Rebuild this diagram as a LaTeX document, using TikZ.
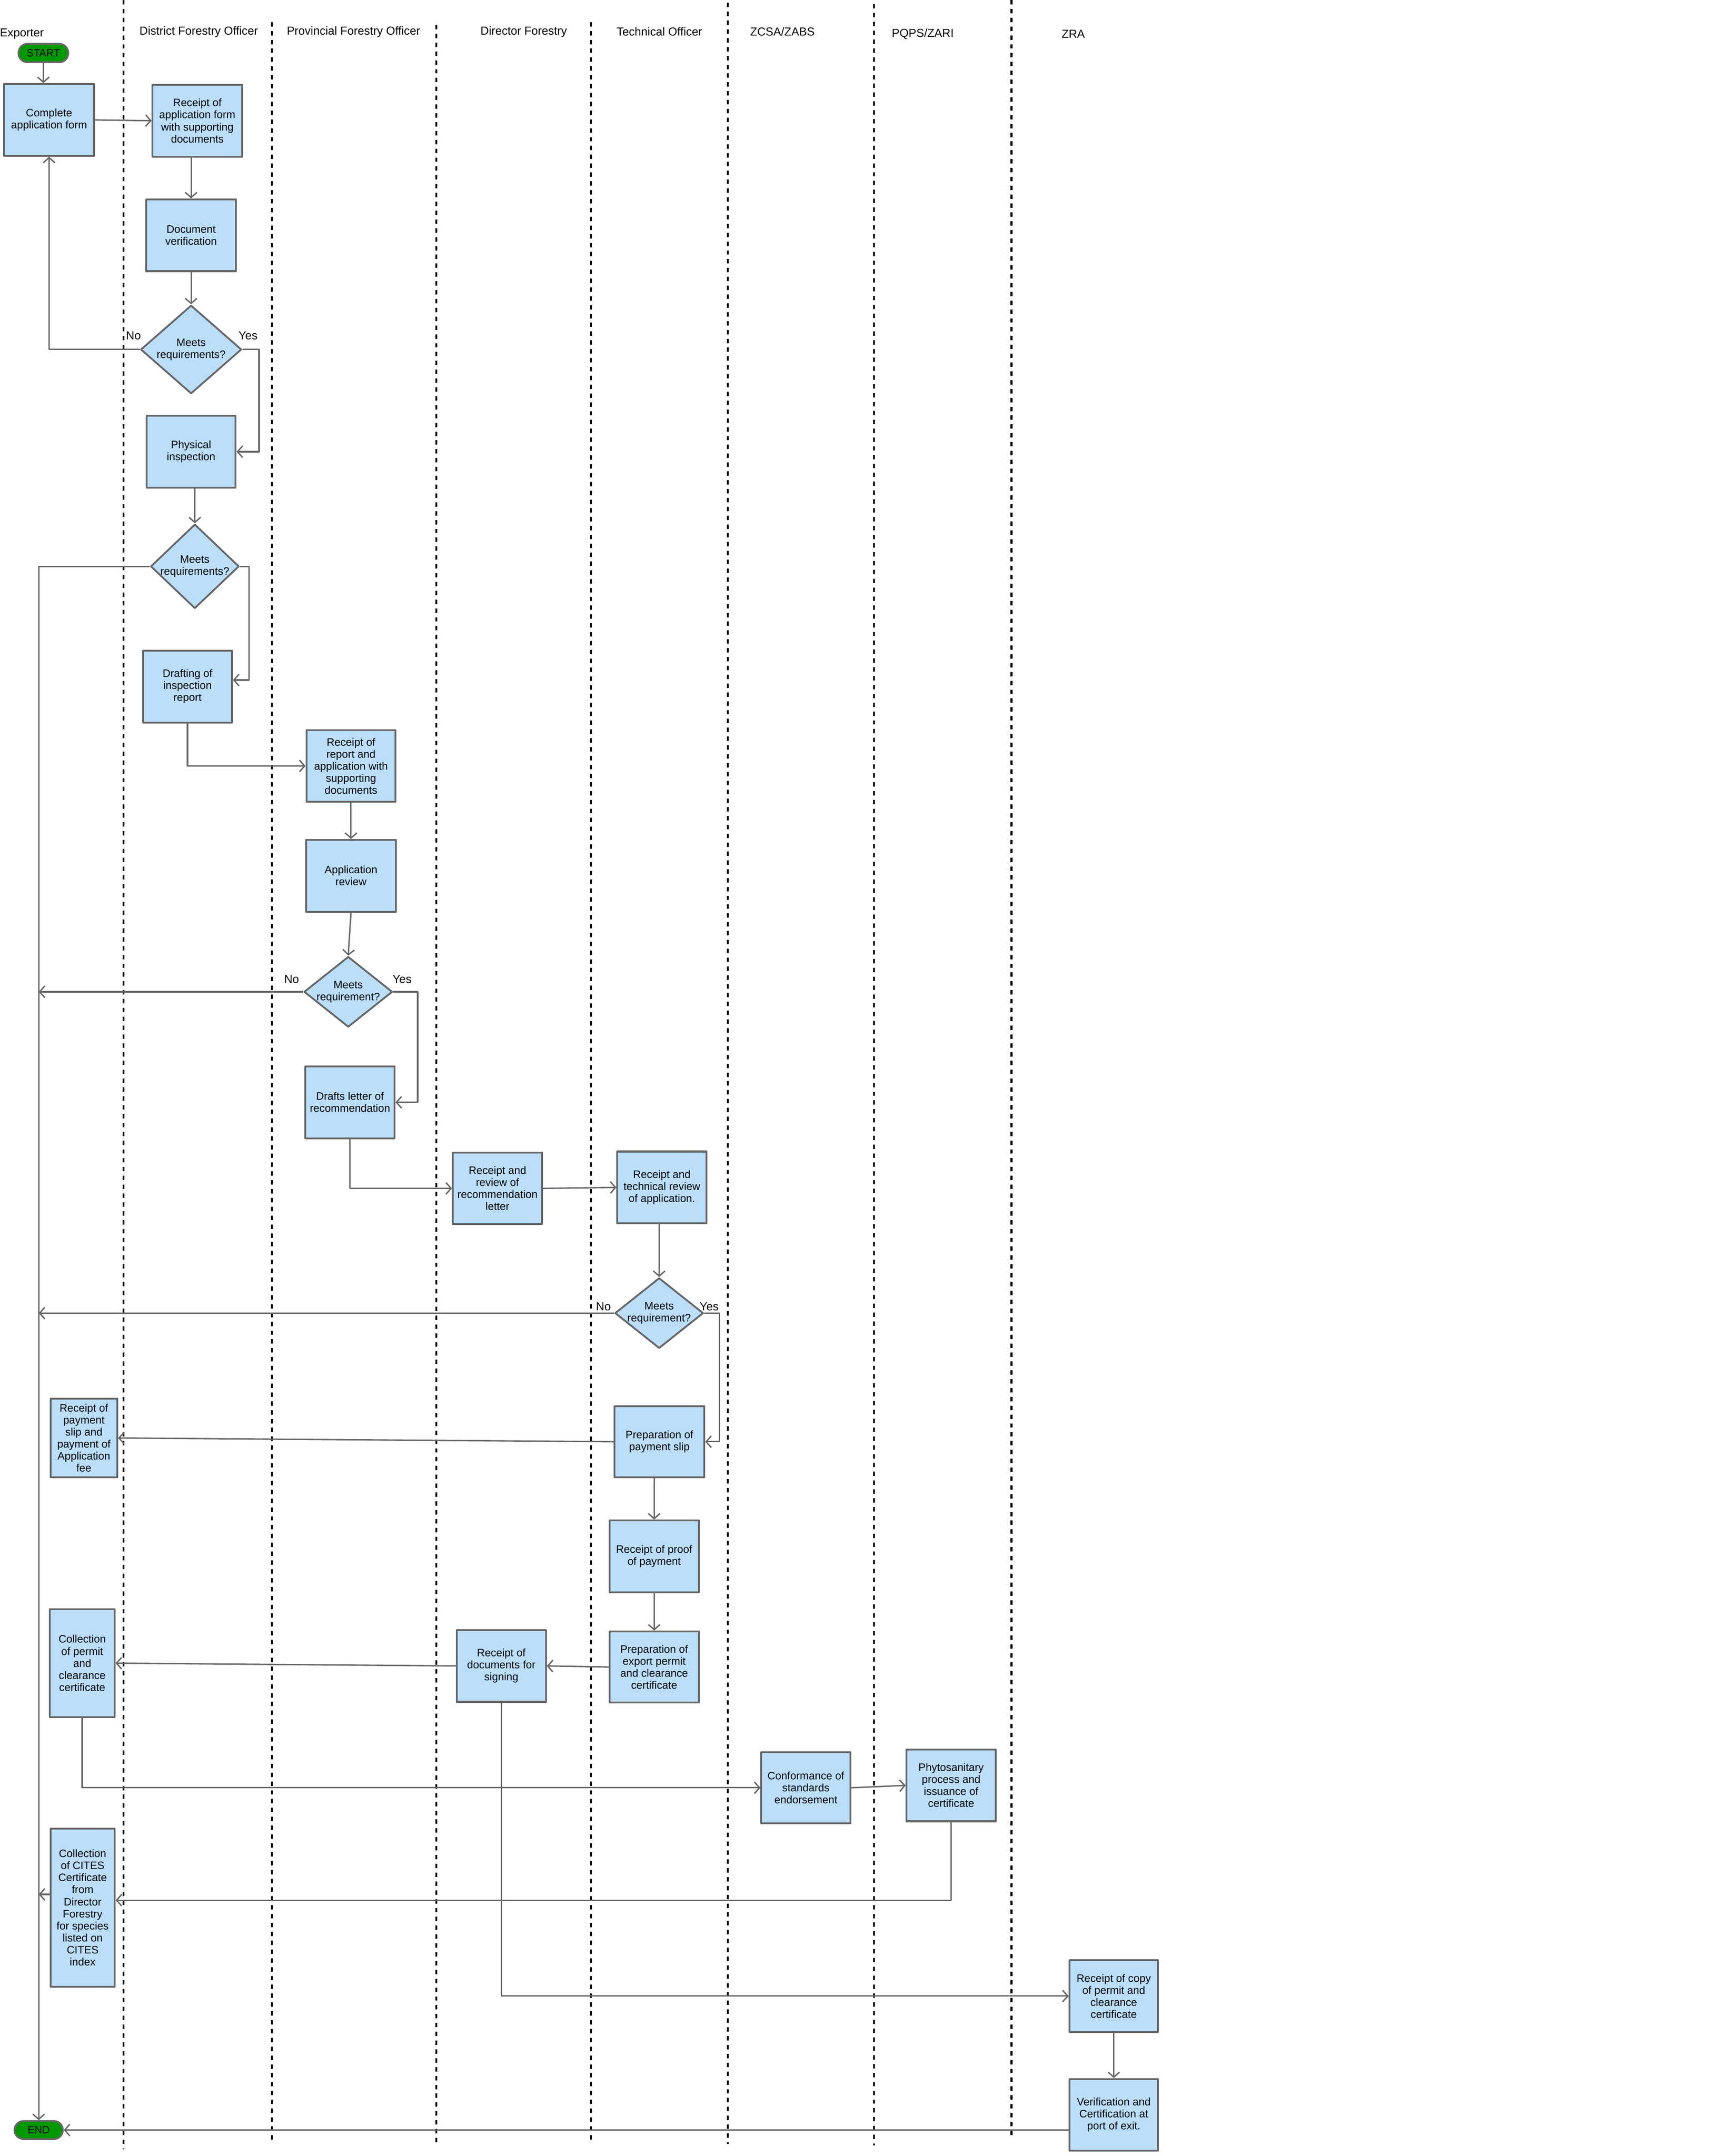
\documentclass[tikz,border=0pt]{standalone}
\usepackage{fontspec}
\setmainfont{Liberation Sans}
\usetikzlibrary{arrows.meta,shapes.geometric}
\definecolor{boxblue}{HTML}{BBDEFB}
\definecolor{linegray}{HTML}{666666}
\definecolor{termgreen}{HTML}{009900}
\newcommand{\boxfont}{\fontsize{7.8}{8.7}\selectfont}
\newcommand{\headfont}{\fontsize{8.4}{9.4}\selectfont}
\newcommand{\termfont}{\fontsize{7.6}{8.5}\selectfont}
\begin{document}
\begin{tikzpicture}[x=1pt,y=-1pt,line join=round,>={Straight Barb[length=3.7pt,width=8.4pt]},
	proc/.style={draw=linegray,fill=boxblue,line width=1.3pt,minimum width=64.5pt,minimum height=52pt,inner sep=0pt,align=center,font=\boxfont},
	decide/.style={draw=linegray,fill=boxblue,line width=1.3pt,diamond,inner sep=0pt},
	dtext/.style={align=center,font=\boxfont,inner sep=0pt},
	term/.style={draw=linegray,fill=termgreen,line width=1.3pt,rounded corners=6.5pt,minimum width=36pt,minimum height=13.3pt,inner sep=0pt,font=\termfont},
	head/.style={inner sep=0pt,font=\headfont},
	answer/.style={inner sep=0pt,font=\headfont},
	lane/.style={dash pattern=on 3.2pt off 3.2pt,line width=1.3pt},
	flow/.style={draw=linegray,line width=1pt,->}]
		\useasboundingbox (0,0) rectangle (1250.2,1560.8);
		\foreach \x/\t/\b in {89.5/0/1556,196.8/16/1551,315.8/18/1552,427.6/16/1549,526.7/2/1552,632.6/3/1553,732/0/1546}
			\draw[lane] (\x,\t)--(\x,\b);
		\node[head] (hexp) at (15.8,24.5) {Exporter};
		\node[head] (hdfo) at (143.8,23) {District Forestry Officer};
		\node[head] (hpfo) at (255.8,23) {Provincial Forestry Officer};
		\node[head] (hdir) at (379,23) {Director Forestry};
		\node[head] (htech) at (477.2,23) {Technical Officer};
		\node[head] (hzcsa) at (566.2,23) {ZCSA/ZABS};
		\node[head] (hpqps) at (667.8,24.5) {PQPS/ZARI};
		\node[head] (hzra) at (776.7,24.6) {ZRA};
		\node[term] (start) at (31.4,38.4) {START};
		\node[proc,minimum width=65pt] (apply) at (35.5,86.8) {Complete\\application form};
		\node[proc,minimum width=64.8pt] (rcapp) at (142.8,87.4) {Receipt of\\application form\\with supporting\\documents};
		\node[proc,minimum width=65pt] (docver) at (138.3,170.3) {Document\\verification};
		\node[decide,minimum width=73pt,minimum height=64pt,label={[dtext]center:{Meets\\requirements?}}] (dec1) at (138.3,253) {};
		\node[proc] (phys) at (138.3,327) {Physical\\inspection};
		\node[decide,minimum width=64pt,minimum height=61pt,label={[dtext]center:{Meets\\requirements?}}] (dec2) at (141,410) {};
		\node[proc] (draft) at (135.7,497) {Drafting of\\inspection\\report};
		\node[proc] (rcrep) at (254,554.5) {Receipt of\\report and\\application with\\supporting\\documents};
		\node[proc,minimum width=65pt] (apprev) at (254,634) {Application\\review};
		\node[decide,minimum width=64pt,minimum height=51pt,label={[dtext]center:{Meets\\requirement?}}] (dec3) at (252,718) {};
		\node[proc] (letter) at (253.3,798) {Drafts letter of\\recommendation};
		\node[proc,minimum height=51.5pt] (rcrev) at (360,860.3) {Receipt and\\review of\\recommendation\\letter};
		\node[proc] (tech) at (479,859.6) {Receipt and\\technical review\\of application.};
		\node[decide,minimum width=64pt,minimum height=51pt,label={[dtext]center:{Meets\\requirement?}}] (dec4) at (477,950.6) {};
		\node[proc,minimum width=48.2pt,minimum height=57pt] (rcpay) at (60.7,1041) {Receipt of\\payment\\slip and\\payment of\\Application\\fee};
		\node[proc,minimum width=65pt,minimum height=51.5pt] (payslip) at (477.2,1043.7) {Preparation of\\payment slip};
		\node[proc] (proof) at (473.4,1126.7) {Receipt of proof\\of payment};
		\node[proc,minimum height=51.5pt] (export) at (473.4,1206.8) {Preparation of\\export permit\\and clearance\\certificate};
		\node[proc] (docs) at (362.8,1206) {Receipt of\\documents for\\signing};
		\node[proc,minimum width=47pt,minimum height=78pt] (coll) at (59.5,1204) {Collection\\of permit\\and\\clearance\\certificate};
		\node[proc,minimum height=51.5pt] (conf) at (583.2,1294.2) {Conformance of\\standards\\endorsement};
		\node[proc] (phyto) at (688.3,1292.5) {Phytosanitary\\process and\\issuance of\\certificate};
		\node[proc,minimum width=46.5pt,minimum height=114.6pt] (cites) at (59.8,1381) {Collection\\of CITES\\Certificate\\from\\Director\\Forestry\\for species\\listed on\\CITES\\index};
		\node[proc,minimum width=64pt] (copy) at (806,1445) {Receipt of copy\\of permit and\\clearance\\certificate};
		\node[proc,minimum width=64pt] (verif) at (806,1531) {Verification and\\Certification at\\port of exit.};
		\node[term,minimum width=35pt,minimum height=13pt] (stop) at (28,1542) {END};
		\node[answer] (no1) at (96.6,243) {No};
		\node[answer] (yes1) at (179.5,243) {Yes};
		\node[answer] (no3) at (211,709) {No};
		\node[answer] (yes3) at (291,709) {Yes};
		\node[answer] (no4) at (436.7,946) {No};
		\node[answer] (yes4) at (513.2,946) {Yes};
		\coordinate (draftin) at ([yshift=4.7pt]draft.east);
		\coordinate (citesin) at ([yshift=5.4pt]cites.east);
		\coordinate (citesout) at ([yshift=9.6pt]cites.west);
		\draw[flow] (start.south)--(start.south |- apply.north);
		\draw[flow] (apply.east)--(rcapp.west);
		\draw[flow] (docver.north |- rcapp.south)--(docver.north);
		\draw[flow] (docver.south)--(dec1.north);
		\draw[flow] (dec1.west)-|(apply.south);
		\draw[flow] (dec1.east)--++(12,0)|-(phys.east);
		\draw[flow] (dec2.north |- phys.south)--(dec2.north);
		\draw[flow] (dec2.west)-|(stop.north);
		\draw[flow] (dec2.east)--++(6.5,0)|-(draftin);
		\draw[flow] (draft.south)|-(rcrep.west);
		\draw[flow] (rcrep.south)--(apprev.north);
		\draw[flow] (apprev.south)--(dec3.north);
		\draw[flow] (dec3.west)--(dec3.west -| stop.north);
		\draw[flow] (dec3.east)--++(17.6,0)|-(letter.east);
		\draw[flow] (letter.south)|-(rcrev.west);
		\draw[flow] (rcrev.east)--(tech.west);
		\draw[flow] (dec4.north |- tech.south)--(dec4.north);
		\draw[flow] (dec4.west)--(dec4.west -| stop.north);
		\draw[flow] (dec4.east)--++(11,0)|-(payslip.east);
		\draw[flow] (payslip.west)--(rcpay.east);
		\draw[flow] (proof.north |- payslip.south)--(proof.north);
		\draw[flow] (proof.south)--(export.north);
		\draw[flow] (export.west)--(docs.east);
		\draw[flow] (docs.west)--(coll.east);
		\draw[flow] (docs.south)|-(copy.west);
		\draw[flow] (coll.south)|-(conf.west);
		\draw[flow] (conf.east)--(phyto.west);
		\draw[flow] (phyto.south)|-(citesin);
		\draw[flow] (citesout)--(citesout -| stop.north);
		\draw[flow] (copy.south)--(verif.north);
		\draw[flow] (verif.west |- stop.east)--(stop.east);
		\end{tikzpicture}
\end{document}
